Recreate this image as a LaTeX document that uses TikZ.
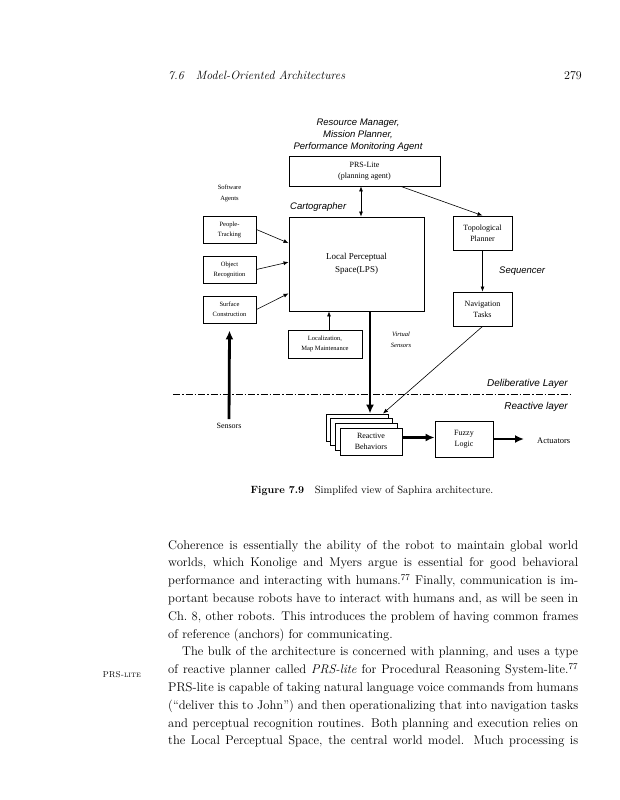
\documentclass[tikz,border=0pt]{standalone}
\usepackage{fontspec}
\newfontfamily\boxfont{Liberation Serif}
\newfontfamily\labfont{Liberation Sans}
\usetikzlibrary{arrows.meta,positioning,calc}
\tikzset{
  box/.style={draw, align=center, fill=white, line width=0.9pt, inner sep=1pt,
    font=\boxfont\fontsize{8}{11}\selectfont},
  agent/.style={box, minimum width=53pt, minimum height=27pt,
    font=\boxfont\fontsize{6.5}{10}\selectfont},
  stack/.style={box, minimum width=62pt, minimum height=27pt},
  tag/.style={align=center, inner sep=0pt, font=\labfont\itshape\fontsize{9.5}{12}\selectfont},
  note/.style={align=center, inner sep=0pt, font=\boxfont\fontsize{7.5}{10}\selectfont},
  arrow/.style={-{Latex[length=5pt,width=4pt]}, line width=0.6pt},
  bigarrow/.style={-{Latex[length=9pt,width=8pt]}, line width=2.8pt},
  layerline/.style={line width=0.9pt, dash pattern=on 7pt off 2pt on 1.5pt off 2pt},
  body/.style={align=justify, text width=410pt, inner sep=0pt,
    font=\fontsize{12.6}{17.8}\selectfont},
}

\begin{document}
\begin{tikzpicture}[x=1pt, y=-1pt]
  \useasboundingbox (0,0) rectangle (620,800);

  % Page head
  \node[anchor=base west, inner sep=0pt, font=\itshape\fontsize{12}{14}\selectfont] (head) at (168,80) {7.6\quad Model-Oriented Architectures};
  \node[anchor=base east, inner sep=0pt, font=\fontsize{12}{14}\selectfont] (pageno) at (582,80) {279};

  % Planning level
  \node[tag] (manager) at (358,135) {Resource Manager,\\Mission Planner,\\Performance Monitoring Agent};
  \node[box, minimum width=151pt, minimum height=30pt] (prs) at (364.5,171) {PRS-Lite\\(planning agent)};
  \node[box, minimum width=135pt, minimum height=94pt, font=\boxfont\fontsize{9}{12.5}\selectfont] (lps) at (356.5,264) {Local Perceptual\\Space(LPS)};
  \node[tag, anchor=west] (carto) at (290,207) {Cartographer};
  \node[box, minimum width=59pt, minimum height=34pt] (topo) at (482.5,233) {Topological\\Planner};
  \node[box, minimum width=59pt, minimum height=34pt] (nav) at (482.5,309) {Navigation\\Tasks};
  \node[tag, anchor=west] (seq) at (499,271) {Sequencer};

  % Software agents
  \node[note, font=\boxfont\fontsize{6.5}{11}\selectfont] (agents) at (229.5,193) {Software\\Agents};
  \node[agent] (people) at (229.5,229.5) {People-\\Tracking};
  \node[agent] (object) at (229.5,269.5) {Object\\Recognition};
  \node[agent] (surface) at (229.5,309.5) {Surface\\Construction};
  \node[agent, minimum width=74pt, minimum height=28pt] (loc) at (325,344) {Localization,\\Map Maintenance};
  \node[note, font=\boxfont\itshape\fontsize{6.5}{11}\selectfont] (virtual) at (401,340) {Virtual\\Sensors};

  % Layers
  \node[tag, anchor=east, font=\labfont\itshape\fontsize{10}{12}\selectfont] (delib) at (568,384) {Deliberative Layer};
  \node[tag, anchor=east, font=\labfont\itshape\fontsize{10}{12}\selectfont] (react) at (568,407) {Reactive layer};
  \coordinate (layerL) at (173,394);
  \coordinate (layerR) at (572,394);
  \draw[layerline] (layerL) -- (layerR);

  % Reactive level
  \node[note, font=\boxfont\fontsize{8}{11}\selectfont] (sensors) at (229,426) {Sensors};
  \node[stack] (rb3) at (357,427.5) {};
  \node[stack] (rb2) at ([shift={(4.7,4.7)}]rb3) {};
  \node[stack] (rb1) at ([shift={(4.7,4.7)}]rb2) {};
  \node[stack] (rb) at ([shift={(4.6,4.6)}]rb1) {Reactive\\Behaviors};
  \node[box, minimum width=58pt, minimum height=36pt] (fuzzy) at (464,439) {Fuzzy\\Logic};
  \node[note, font=\boxfont\fontsize{8.5}{11}\selectfont, anchor=west] (act) at (537,441) {Actuators};

  % Arrows
  \draw[{Latex[length=5pt,width=4pt]}-{Latex[length=5pt,width=4pt]}, line width=0.6pt] ([xshift=-3.5pt]prs.south) -- ([xshift=4.5pt]lps.north);
  \draw[arrow] ($(prs.south west)!0.74!(prs.south east)$) -- (topo.north);
  \draw[arrow] (topo) -- (nav);
  \draw[arrow] (people.east) -- ($(lps.north west)!0.28!(lps.south west)$);
  \draw[arrow] (object.east) -- ($(lps.north west)!0.48!(lps.south west)$);
  \draw[arrow] (surface.east) -- ($(lps.north west)!0.81!(lps.south west)$);
  \draw[arrow] ([xshift=4pt]loc.north) -- ([xshift=4pt]loc.north |- lps.south);
  \draw[arrow] (nav.south) -- ([xshift=26pt]rb3.north);
  \draw[bigarrow] ([xshift=13.5pt]lps.south) -- ([xshift=13pt]rb3.north);
  \draw[bigarrow, shorten <=4pt] (sensors.north) -- ([yshift=-7pt]surface.south);
  \draw[bigarrow] ([yshift=4pt]rb.east) -- ([yshift=4pt]rb.east -| fuzzy.west);
  \draw[bigarrow, shorten >=13pt] (fuzzy.east) -- (act.west |- fuzzy.east);

  % Caption
  \node[inner sep=0pt, anchor=base, font=\fontsize{10.5}{13}\selectfont] (caption) at (372,493) {\textbf{Figure 7.9}\quad Simplifed view of Saphira architecture.};

  % Running text
  \node[body, anchor=north west] (text) at (168,540) {%
    Coherence is essentially the ability of the robot to maintain global world\linebreak
    worlds, which Konolige and Myers argue is essential for good behavioral\linebreak
    performance and interacting with humans.\textsuperscript{77} Finally, communication is im-\linebreak
    portant because robots have to interact with humans and, as will be seen in\linebreak
    Ch.~8, other robots.  This introduces the problem of having common frames\linebreak
    of reference (anchors) for communicating.\par
    \hspace*{14pt}The bulk of the architecture is concerned with planning, and uses a type\linebreak
    of reactive planner called \textit{PRS-lite} for Procedural Reasoning System-lite.\textsuperscript{77}\linebreak
    PRS-lite is capable of taking natural language voice commands from humans\linebreak
    (``deliver this to John'') and then operationalizing that into navigation tasks\linebreak
    and perceptual recognition routines.  Both planning and execution relies on\linebreak
    the Local Perceptual Space, the central world model.  Much processing is\parfillskip=0pt\par};
  \node[anchor=base east, inner sep=0pt, font=\fontsize{8.5}{10}\selectfont] (margin) at (141,677) {\textsc{PRS-lite}};
\end{tikzpicture}
\end{document}
